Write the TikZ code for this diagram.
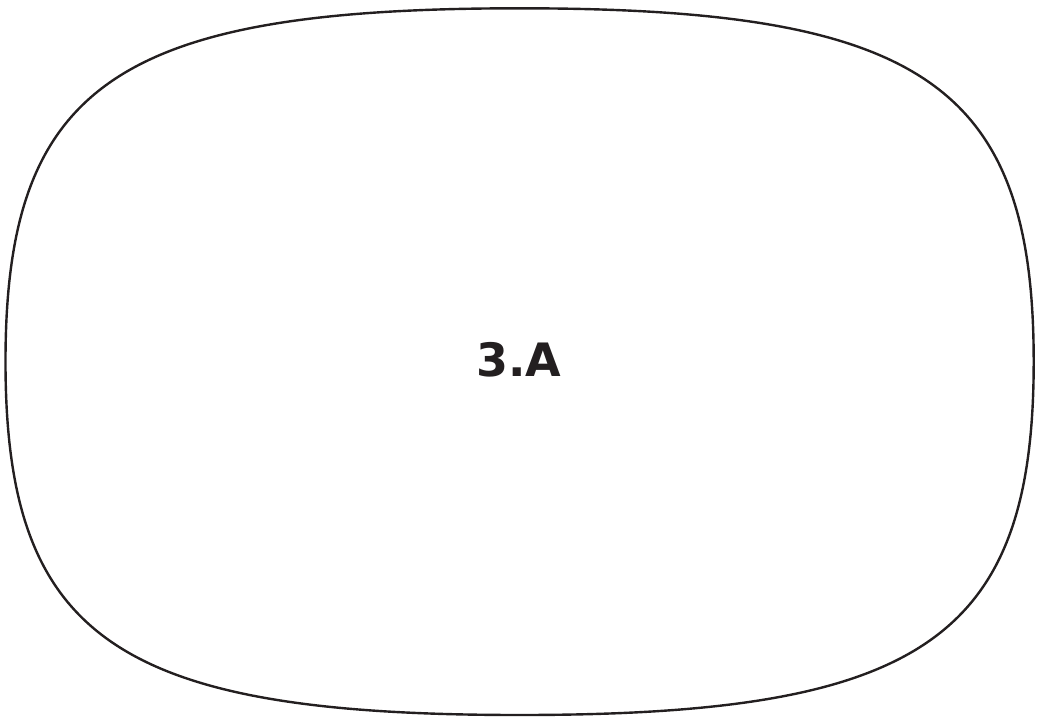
\documentclass[tikz,border=0pt]{standalone}
\usepackage{fontspec}
\newfontfamily\tagfont{DejaVu Sans}

\begin{document}
\begin{tikzpicture}[x=0.5pt,y=-0.5pt]
	\definecolor{color1}{HTML}{231F20}
	\tikzset{outline/.style={draw=color1,line width=1.2pt},
		tag/.style={text=color1,font=\tagfont\bfseries\fontsize{23}{26}\selectfont}}
	\useasboundingbox (0,0) rectangle (1039,718);
	%% Points ------
	\coordinate (N) at (519.6,8.3);
	\coordinate (W) at (5.5,361.6);
	\coordinate (S) at (519.6,715);
	\coordinate (E) at (1033.7,361.6);
	%% Outline ---------
	\draw[outline] (N) .. controls (117.1,8.3) and (5.5,84.9) .. (W)
		.. controls (5.5,638.3) and (117.1,715) .. (S)
		.. controls (922.1,715) and (1033.7,638.3) .. (E)
		.. controls (1033.7,84.9) and (922.1,8.3) .. (N) -- cycle;
	\node[tag] (3A) at (519,360) {3.A};
\end{tikzpicture}
\end{document}
